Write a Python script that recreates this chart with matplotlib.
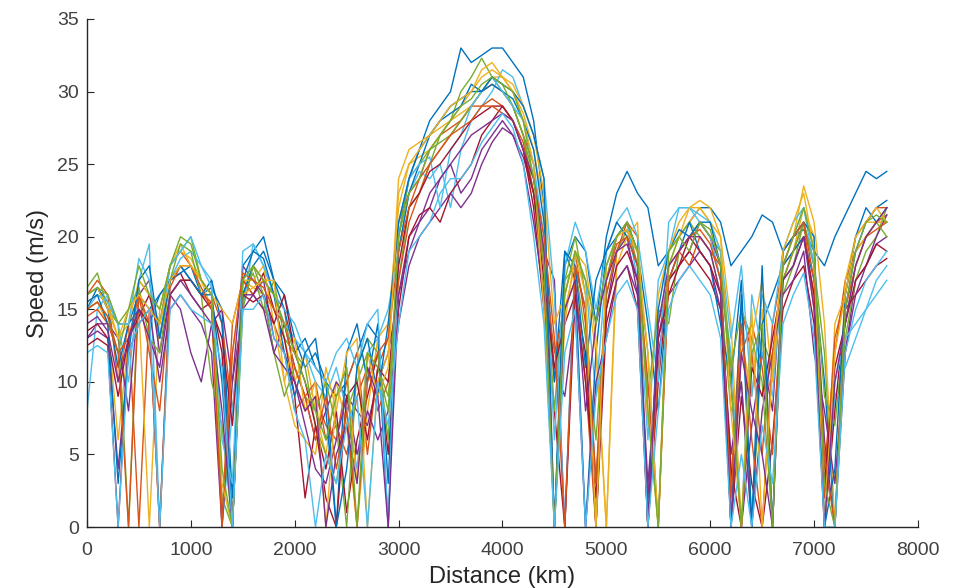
import matplotlib.pyplot as plt

plt.rcParams['font.family'] = ['Liberation Sans', 'DejaVu Sans']

# distance grid (km), one sample every 100 km
distance = list(range(0, 7800, 100))

# speed traces (m/s)
run_01 = [15, 16.5, 15.5, 14, 14, 16, 15, 16, 17, 18,
          17, 16, 16.5, 15, 2, 18, 19, 20, 17, 16,
          13, 11, 12, 10, 9, 10, 12, 14, 13, 0,
          20, 24, 26, 28, 29, 30, 33, 32, 32.5, 33,
          33, 32, 31, 28, 22, 0, 18, 20, 19, 14,
          20, 23, 24.5, 23, 22, 18, 19, 20, 21, 22,
          22, 21, 18, 19, 20, 21.5, 21, 19, 20, 20.5,
          19, 18, 20, 21.5, 23, 24.5, 24, 24.5]
run_02 = [16, 17, 16, 10, 14, 0, 15, 14, 18, 19,
          18, 17, 16, 14, 8, 16, 18, 17, 16, 15,
          10, 8, 9, 7, 6, 10, 12, 5, 11, 13,
          21, 23, 24, 26, 27, 27.5, 28, 29, 30, 30.5,
          30, 29, 27, 25, 18, 10, 16, 19, 14, 0,
          17, 20, 21, 18, 0, 14, 17, 19, 20, 21,
          20, 17, 3, 15, 12, 5, 14, 18, 19, 20,
          16, 4, 12, 17, 19, 20, 21, 21.5]
run_03 = [15, 15.5, 14, 6, 13, 15, 0, 15, 18, 19.5,
          18, 17, 15, 0, 12, 17, 16.5, 16, 15, 13,
          10, 12, 8, 5, 10, 7, 0, 8, 13, 14,
          22, 25, 25.5, 26, 27, 28, 28.5, 29, 30, 31,
          31, 30, 28.5, 26, 22, 0, 15, 18, 17, 12,
          0, 19, 20, 19, 8, 0, 18, 20, 21, 22,
          21, 19, 0, 13, 9, 15, 0, 17, 19, 22,
          20, 0, 14, 16, 19, 20, 21, 21]
run_04 = [13, 14, 14, 13, 8, 16, 17, 12, 16, 15,
          12, 10, 14, 15, 10, 18, 17, 16, 12, 14,
          11, 9, 6, 8, 10, 9, 8, 7, 10, 12,
          16, 20, 21, 22, 24, 25, 23, 24, 26, 27,
          28, 27, 25.5, 23, 19, 17, 0, 18, 15, 3,
          15, 19, 20, 16, 2, 13, 17, 18, 19, 21,
          20, 18, 10, 0, 7, 12, 8, 19, 20, 21,
          18, 6, 0, 12, 17, 18, 19.5, 20]
run_05 = [16.5, 17.5, 15, 14, 0, 17, 16, 14, 18, 19,
          20, 17, 16, 2, 0, 16, 17.5, 15, 17, 13,
          12, 11, 7, 5, 3, 8, 10, 12, 11, 9,
          17, 22, 23, 25, 27, 28, 30, 31, 32.3, 31,
          30, 29, 27, 23, 16, 0, 17, 18, 13, 6,
          16, 19, 20.5, 18, 12, 0, 18, 20, 21, 20,
          19, 16, 8, 10, 0, 13, 11, 16, 18, 21,
          18, 12, 0, 13, 17, 19, 20, 22]
run_06 = [8, 15, 16, 14, 10, 17, 19.5, 0, 17, 18.5,
          19, 18, 17, 0, 8, 15, 19.5, 18, 16, 14,
          13, 12, 10, 9, 11, 8, 4, 12, 13, 15,
          19, 23, 24.5, 24, 25, 22, 26, 28, 29, 30,
          31.5, 31, 29, 27, 24, 16, 0, 19, 17, 9,
          18, 20, 21, 17, 6, 17, 19, 22, 22, 21,
          20, 17, 12, 0, 16, 12, 9, 18, 20, 22,
          19, 0, 9, 11, 13, 15, 16, 17]
run_07 = [12.5, 13, 12.5, 0, 13, 14.5, 16, 13, 17, 17.5,
          16, 15, 15.5, 12, 0, 17, 16, 17.5, 15, 13,
          9, 2, 7, 4, 8, 1, 6, 9, 12, 5,
          15, 20, 21.5, 22, 21, 23, 24, 25, 27, 28,
          29, 28, 26, 22, 15, 8, 0, 16, 12, 0,
          14, 17, 18, 15, 0, 10, 17, 18, 19, 18,
          17, 15, 0, 9, 3, 0, 6, 15, 17, 18,
          14, 0, 8, 15, 16, 17, 18, 18.5]
run_08 = [16, 16.5, 15, 11, 14, 15, 14, 16, 17, 17.5,
          18, 16, 17, 14, 0, 16, 18, 19, 17, 15,
          12, 13, 11, 10, 0, 12, 14, 10, 14, 3,
          19, 23, 25, 27, 28, 29, 29.5, 30, 30, 30.5,
          30, 29.5, 28, 26, 21, 10, 19, 17, 0, 12,
          19, 20, 21, 19, 14, 8, 17, 19, 21, 19,
          18, 14, 10, 17, 0, 14, 16, 18, 19, 20,
          17, 10, 0, 15, 19, 21, 22, 22.5]
run_09 = [14.5, 15, 14, 12, 13, 16, 12, 8, 16, 17,
          17, 16, 15.5, 0.5, 14, 17, 16, 15, 14, 12,
          8, 9, 10, 6, 7, 5, 9, 11, 8, 10,
          17, 21, 23, 25, 26, 27, 28, 29, 29, 29.5,
          29, 28, 26.5, 23, 18, 12, 15, 17, 10, 0,
          16, 19, 21, 20, 0, 11, 18, 19, 18, 20,
          19, 18, 0, 12, 14, 11, 5, 17, 19, 21,
          15, 2, 13, 16, 20, 21, 22, 22]
run_10 = [15.5, 16, 15.5, 13, 14, 17, 16, 15, 18, 19,
          18.5, 17, 16, 15, 14, 17, 17, 18, 14, 10,
          7, 6, 5, 11, 8, 12, 13, 0, 10, 12,
          24, 26, 26.5, 27, 27.5, 28, 29, 30, 31, 31.5,
          31, 30.5, 29, 27, 23, 14, 16, 19, 18, 13,
          0, 18, 20, 21, 7, 16, 19, 20, 22, 22,
          21, 20, 14, 0, 13, 17, 10, 18, 20, 23.5,
          21, 14, 0, 17, 20, 21, 21, 21]
run_11 = [13, 13.5, 13, 4, 12, 14, 15, 10, 15, 16,
          15, 14, 12, 0, 10, 15, 16, 17, 13, 12,
          10, 7, 4, 3, 6, 9, 5, 8, 6, 8,
          14, 18, 20, 21, 22, 23, 22, 23, 25, 26.5,
          27.5, 27, 25, 21, 16, 11, 9, 15, 0, 10,
          13, 17, 18, 16, 3, 12, 16, 17, 18, 19,
          18, 15, 5, 10, 0, 8, 12, 16, 17, 19,
          12, 8, 3, 12, 16, 18, 20, 21.5]
run_12 = [15, 15.5, 14.5, 12, 15, 16.5, 13, 12, 17, 19.5,
          19, 16, 10, 7, 0, 15, 18, 16, 12, 9,
          11, 9, 8, 10, 7, 0, 11, 13, 12, 6,
          20, 24, 25, 26, 26.5, 27, 28, 29, 30, 31,
          30.5, 29, 27, 24, 19, 8, 17, 20, 16, 0,
          17, 20, 21, 19, 9, 15, 14, 19, 20, 21,
          20, 19, 11, 15, 13, 10, 0, 17, 19, 21,
          18, 9, 7, 14, 18, 20, 21, 20]
run_13 = [15, 16, 15.5, 14, 14, 18.5, 17, 13, 18, 19,
          20, 18, 16.5, 6, 3, 19, 19.5, 18, 16, 15,
          14, 12, 11, 10, 12, 13, 11, 14, 15, 0,
          21, 24, 25, 25.5, 22, 26, 27, 29, 30, 31,
          30, 29, 28, 25, 20, 6, 18, 21, 19, 15,
          19, 21, 22, 20, 15, 10, 21, 22, 22, 21.5,
          21, 19, 13, 18, 9, 16, 14, 19, 21, 22,
          18, 0, 10, 13, 14, 15, 17, 18]
run_14 = [13.5, 14, 13, 9, 13, 15, 14, 0, 16, 17,
          17, 16, 15, 13, 7, 16, 15.5, 16, 14, 16,
          12, 10, 7, 2, 0, 9, 10, 6, 11, 10,
          18, 22, 23, 24.5, 25, 26, 27, 28, 28.5, 29,
          29, 28, 26, 23, 17, 11, 14, 16, 10, 2,
          15, 18, 19, 17, 0, 13, 16, 18, 20, 19,
          18, 16, 4, 0, 11, 9, 13, 17, 18, 20,
          16, 3, 11, 14, 17, 18, 19.5, 19]
run_15 = [15.5, 16, 14, 3, 12, 17, 18, 13, 17, 18,
          17, 16, 16, 10, 0, 17, 19, 18.5, 16, 12,
          9, 12, 13, 8, 0, 4, 11, 13, 9, 14,
          21, 24, 26, 27, 28, 28.5, 29, 30.5, 30, 31,
          30.5, 30, 29, 27, 24, 0, 19, 18, 11, 17,
          19, 21, 20, 18, 0, 15, 19, 20.5, 20, 21,
          21, 18, 0, 16, 0, 18, 0, 19, 20, 21,
          20, 0, 4, 16, 20, 22, 21, 22]
run_16 = [15, 15.5, 14.5, 12, 0, 16, 14, 0, 16.5, 18,
          18, 16.5, 15, 0, 12, 17.5, 17, 16.5, 15, 14,
          11, 9, 6, 9, 4, 8, 0, 10, 12, 13,
          19, 22, 24, 25, 26, 27, 27.5, 28, 29, 29,
          28.5, 28, 26, 24, 20, 13, 0, 18, 15, 3,
          17, 19.5, 20, 18, 10, 0, 17, 19, 20, 20.5,
          19.5, 17, 2, 14, 6, 0, 12, 18, 20, 21,
          17, 5, 0, 15, 18, 20, 20.5, 21]
run_17 = [16, 16.5, 15, 13, 15, 16, 15, 14, 17, 18,
          18, 17, 16, 3, 0, 16, 16.5, 17, 17, 10,
          13, 8, 10, 0, 9, 11, 3, 12, 9, 11,
          23, 25, 26, 27, 28, 29, 29.5, 30, 31.5, 32,
          31, 30, 28, 25, 15, 0, 14, 19, 16, 0,
          18, 20, 20.5, 19, 12, 0, 19, 21, 22, 22.5,
          22, 20, 8, 0, 15, 0, 11, 19, 21, 23,
          19, 0, 12, 16, 20, 21, 22, 21]
run_18 = [14, 14.5, 13.5, 10, 13, 15, 13, 11, 16, 17,
          16, 15, 14, 8, 0, 16, 16, 15, 12, 11,
          10, 8, 9, 0, 5, 7, 3, 11, 9, 0,
          16, 19, 21, 23, 24, 25, 26, 27, 27.5, 28,
          28.5, 28, 26, 24, 19, 0, 15, 17, 8, 14,
          17, 19, 19.5, 17, 0, 14, 18, 19, 20, 20,
          19, 16, 0, 12, 8, 5, 0, 17, 18, 20,
          15, 0, 10, 14, 18, 20, 21, 22]
run_19 = [16, 16.5, 16, 14, 15, 18, 16, 15, 18, 20,
          19.5, 17, 16, 4, 0, 17, 18, 17, 16, 14,
          12, 10, 8, 6, 9, 11, 0, 12, 11, 8,
          20, 23, 24, 26, 27, 28, 29, 29.5, 30.5, 31,
          30.5, 30, 28, 24, 18, 0, 16, 19, 17, 14,
          18, 20, 21, 19, 8, 0, 19, 20, 19, 21,
          20.5, 18, 10, 0, 12, 14, 0, 18, 20, 22,
          19, 3, 0, 15, 19, 21, 21.5, 21]
run_20 = [12, 12.5, 12, 0, 12, 14, 15, 0, 15, 16,
          15, 14.5, 14, 11, 0, 15, 15, 16, 13, 12,
          8, 6, 0, 5, 3, 7, 9, 0, 10, 7,
          14, 19, 20, 21, 23, 24, 24, 25, 26.5, 27.5,
          28.5, 27.5, 25, 20, 14, 0, 12, 15, 0, 9,
          13, 16, 17, 15, 0, 8, 15, 17, 18, 17,
          16, 13, 0, 5, 0, 7, 3, 14, 16, 17.5,
          13, 0, 0, 12, 15, 17, 18, 19]

runs = [run_01, run_02, run_03, run_04, run_05, run_06, run_07,
        run_08, run_09, run_10, run_11, run_12, run_13, run_14,
        run_15, run_16, run_17, run_18, run_19, run_20]

# MATLAB default line colours
colors = ['#0072BD', '#D95319', '#EDB120', '#7E2F8E', '#77AC30', '#4DBEEE', '#A2142F']

fig = plt.figure(figsize=(9.6, 5.88), dpi=100)
ax = fig.add_axes([0.0906, 0.1037, 0.8656, 0.8640])

for i, r in enumerate(runs):
    ax.plot(distance, r, color=colors[i % len(colors)], linewidth=1.0)

ax.set_xlim(0, 8000)
ax.set_ylim(0, 35)
ax.set_xticks(range(0, 8001, 1000))
ax.set_yticks(range(0, 36, 5))
ax.spines['top'].set_visible(False)
ax.spines['right'].set_visible(False)
for s in ['left', 'bottom']:
    ax.spines[s].set_color('#262626')
    ax.spines[s].set_linewidth(1.0)
ax.tick_params(direction='in', length=5, colors='#262626', labelcolor='#404040', labelsize=14)
ax.tick_params(axis='x', pad=11)
ax.tick_params(axis='y', pad=6)
ax.set_xlabel('Distance (km)', fontsize=17, color='#262626', labelpad=5)
ax.set_ylabel('Speed (m/s)', fontsize=17, color='#262626', labelpad=6)

plt.savefig('out.png', dpi=100)
plt.close()
